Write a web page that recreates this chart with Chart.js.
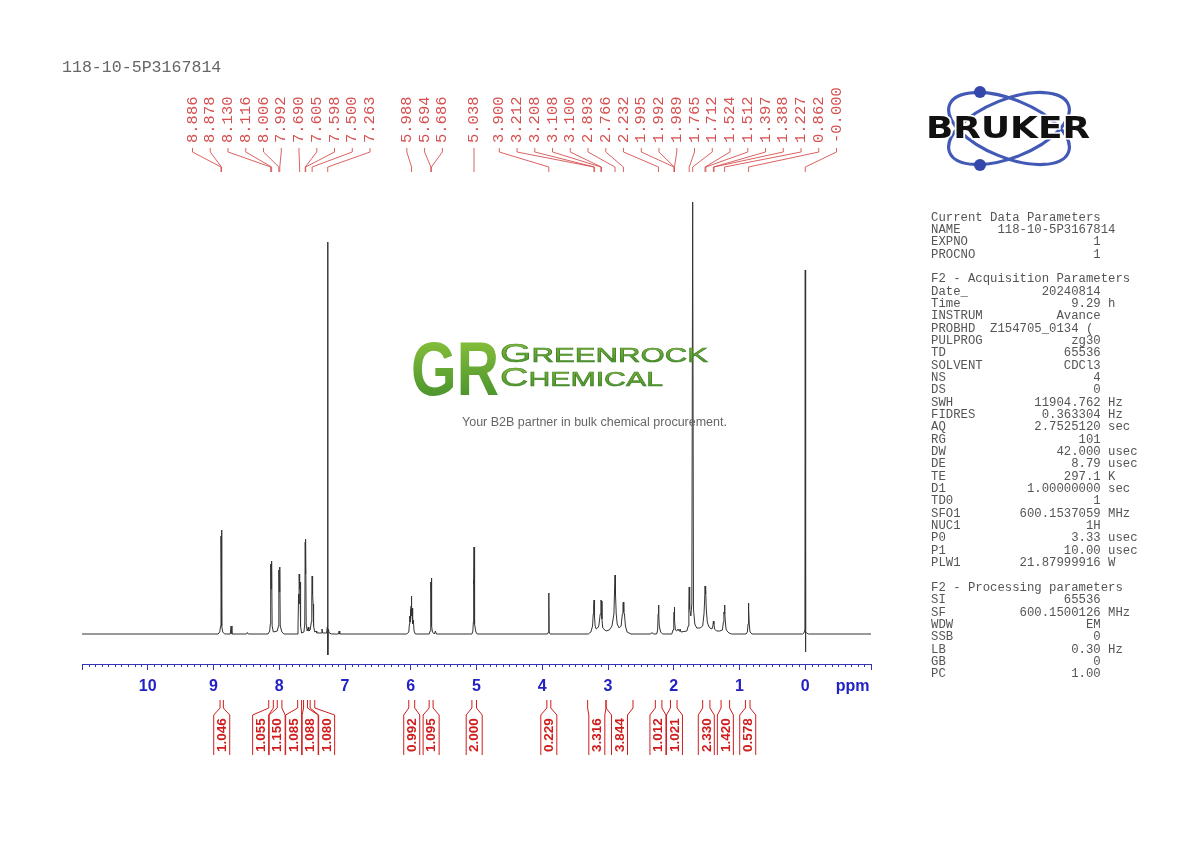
<!DOCTYPE html>
<html>
<head>
<meta charset="utf-8">
<title>118-10-5P3167814</title>
<script src="https://cdn.jsdelivr.net/npm/chart.js@4.4.1/dist/chart.umd.min.js"></script>
<style>
    html, body { margin: 0; padding: 0; background: #fff; }
    #wrap { position: relative; width: 1190px; height: 842px; overflow: hidden; }
    #spec, #overlay { position: absolute; left: 0; top: 0; }
    .mono { font-family: "Liberation Mono", "DejaVu Sans Mono", monospace; white-space: pre; margin: 0; }
    #title { position: absolute; left: 62px; top: 59px; font-size: 16.6px; line-height: 18px; color: #666; }
    #params { position: absolute; left: 931px; top: 211.5px; font-size: 12.3px; line-height: 12.35px; color: #555; }
</style>
</head>
<body>
<div id="wrap">
    <canvas id="spec" width="1190" height="842"></canvas>
    <div id="title" class="mono">118-10-5P3167814</div>
    <pre id="params" class="mono"></pre>
    <svg id="overlay" width="1190" height="842" xmlns="http://www.w3.org/2000/svg">
        <defs>
            <linearGradient id="grg" x1="0" y1="0" x2="0" y2="1">
                <stop offset="0" stop-color="#93c83e"/>
                <stop offset="1" stop-color="#3d8a2a"/>
            </linearGradient>
        </defs>
        <!-- Bruker logo -->
        <ellipse cx="1009" cy="128.5" rx="64" ry="29" transform="rotate(22 1009 128.5)" fill="none" stroke="#4259b5" stroke-width="3.2"/>
        <ellipse cx="1009" cy="128.5" rx="64" ry="29" transform="rotate(-22 1009 128.5)" fill="none" stroke="#4259b5" stroke-width="3.2"/>
        <circle cx="980" cy="92" r="6" fill="#3447ad"/>
        <circle cx="980" cy="165" r="6" fill="#3447ad"/>
        <text x="926" y="138" font-family="DejaVu Sans" font-weight="bold" font-size="30" textLength="164" lengthAdjust="spacingAndGlyphs" fill="#111" stroke="#fff" stroke-width="3" paint-order="stroke">BRUKER</text>
        <!-- watermark -->
        <text x="411" y="395" font-family="Liberation Sans" font-weight="bold" font-size="76" textLength="88" lengthAdjust="spacingAndGlyphs" fill="url(#grg)">GR</text>
        <text x="500" y="362" font-family="Liberation Sans" font-size="20" textLength="208" lengthAdjust="spacingAndGlyphs" fill="url(#grg)" stroke="#3f7f25" stroke-width="0.6"><tspan font-size="26">G</tspan>REENROCK</text>
        <text x="500" y="386" font-family="Liberation Sans" font-size="20" textLength="163" lengthAdjust="spacingAndGlyphs" fill="url(#grg)" stroke="#3f7f25" stroke-width="0.6"><tspan font-size="26">C</tspan>HEMICAL</text>
        <text x="594.5" y="425.5" text-anchor="middle" font-family="Liberation Sans" font-size="12.5" fill="#666">Your B2B partner in bulk chemical procurement.</text>
    </svg>
</div>
<script>
// --- 1. Data ---
const ppmMin = -1;
const ppmMax = 11;

// peak picking labels (ppm)
const peakLabels = ['8.886', '8.878', '8.130', '8.116', '8.006', '7.992', '7.690', '7.605', '7.598', '7.500', '7.263',
    '5.988', '5.694', '5.686', '5.038',
    '3.900', '3.212', '3.208', '3.108', '3.100', '2.893', '2.766', '2.232', '1.995', '1.992', '1.989',
    '1.765', '1.712', '1.524', '1.512', '1.397', '1.388', '1.227', '0.862', '-0.000'];

// integrals: value and region (ppm)
const integralValues = ['1.046', '1.055', '1.150', '1.085', '1.088', '1.080', '0.992', '1.095', '2.000',
    '0.229', '3.316', '3.844', '1.012', '1.021', '2.330', '1.420', '0.578'];
const integralFrom = [8.90, 8.16, 8.03, 7.72, 7.63, 7.53, 6.03, 5.72, 5.07, 3.93, 3.31, 3.03, 2.28, 2.05, 1.56, 1.28, 0.91];
const integralTo = [8.85, 8.09, 7.96, 7.66, 7.57, 7.46, 5.94, 5.66, 5.00, 3.87, 3.03, 2.62, 2.18, 1.95, 1.45, 1.15, 0.84];

// spectrum trace [ppm, intensity], high ppm first
const spectrum = [
    [11.0, 0],
    [8.93, 0], [8.905, 2], [8.892, 8], [8.886, 98], [8.882, 70], [8.878, 104], [8.872, 8], [8.86, 2], [8.83, 0],
    [8.745, 0], [8.733, 8], [8.72, 0],
    [8.50, 0], [8.485, 1.5], [8.47, 0],
    [8.17, 0], [8.145, 3], [8.136, 10], [8.130, 70], [8.123, 45], [8.116, 73], [8.108, 8], [8.09, 2],
    [8.03, 3], [8.012, 8], [8.006, 64], [7.999, 42], [7.992, 67], [7.985, 8], [7.96, 2], [7.93, 0],
    [7.73, 0], [7.715, 6], [7.706, 40], [7.700, 30], [7.697, 60], [7.690, 45], [7.684, 52], [7.676, 8], [7.66, 1],
    [7.625, 2], [7.612, 10], [7.605, 92], [7.601, 60], [7.598, 95], [7.590, 10], [7.575, 3],
    [7.565, 3], [7.558, 7], [7.550, 3],
    [7.530, 4], [7.512, 12], [7.505, 37], [7.500, 58], [7.493, 40], [7.485, 30], [7.478, 8], [7.46, 2],
    [7.44, 3], [7.43, 1], [7.36, 1], [7.35, 5], [7.34, 1],
    [7.28, 1], [7.268, 7], [7.263, 392], [7.260, -21], [7.255, 5], [7.24, 1], [7.20, 0],
    [7.10, 0], [7.09, 3], [7.08, 0],
    [6.06, 0], [6.03, 2], [6.020, 10], [6.015, 18], [6.010, 12], [6.005, 25], [6.000, 15], [5.995, 28], [5.991, 20],
    [5.988, 38], [5.984, 18], [5.980, 26], [5.976, 14], [5.972, 25], [5.966, 10], [5.960, 14], [5.950, 3], [5.93, 0],
    [5.72, 0], [5.705, 3], [5.698, 10], [5.694, 52], [5.690, 40], [5.686, 56], [5.680, 8], [5.67, 2], [5.64, 0], [5.625, 3], [5.61, 0],
    [5.07, 0], [5.055, 3], [5.048, 12], [5.045, 54], [5.041, 50], [5.038, 87], [5.034, 55], [5.030, 50], [5.024, 10], [5.01, 2], [4.99, 0],
    [3.92, 0], [3.905, 2], [3.900, 41], [3.895, 2], [3.88, 0],
    [3.30, 0], [3.26, 2], [3.235, 8], [3.225, 20], [3.218, 27], [3.212, 34], [3.208, 32], [3.202, 17], [3.195, 8], [3.18, 5],
    [3.16, 6], [3.14, 8], [3.118, 20], [3.108, 34], [3.100, 33], [3.092, 15], [3.08, 6], [3.03, 3], [2.98, 4], [2.94, 8],
    [2.91, 20], [2.900, 44], [2.893, 59], [2.886, 40], [2.875, 20], [2.86, 10], [2.83, 6], [2.80, 8], [2.782, 20], [2.772, 30],
    [2.766, 32], [2.760, 22], [2.750, 20], [2.735, 8], [2.71, 2], [2.65, 0],
    [2.35, 0], [2.33, 1.5], [2.31, 0],
    [2.26, 0], [2.245, 4], [2.238, 20], [2.232, 29], [2.226, 22], [2.220, 8], [2.20, 2], [2.17, 0],
    [2.03, 0], [2.01, 4], [2.000, 15], [1.995, 22], [1.992, 27], [1.989, 25], [1.984, 14], [1.975, 4], [1.955, 3], [1.935, 5],
    [1.92, 3], [1.905, 5], [1.89, 2],
    [1.80, 3], [1.78, 8], [1.770, 30], [1.765, 47], [1.758, 25], [1.74, 18], [1.725, 30], [1.712, 432], [1.700, 25], [1.68, 10],
    [1.65, 6], [1.60, 6],
    [1.56, 8], [1.540, 20], [1.530, 34], [1.524, 48], [1.518, 40], [1.512, 45], [1.505, 25], [1.49, 12], [1.47, 8], [1.45, 6],
    [1.42, 5], [1.405, 8], [1.397, 13], [1.392, 10], [1.388, 12], [1.38, 5], [1.35, 3], [1.30, 3],
    [1.26, 4], [1.245, 12], [1.237, 22], [1.232, 20], [1.227, 29], [1.222, 22], [1.215, 12], [1.205, 5], [1.19, 3], [1.16, 1], [1.12, 0],
    [0.90, 0], [0.88, 2], [0.870, 10], [0.866, 25], [0.862, 31], [0.857, 25], [0.852, 10], [0.84, 2], [0.81, 0],
    [0.04, 0], [0.02, 1], [0.005, 4], [0.000, 364], [-0.003, -18], [-0.008, 2], [-0.02, 1], [-0.05, 0],
    [-1.0, 0]
];

// acquisition / processing parameters panel
const params = [
    ['Current Data Parameters'],
    ['NAME     118-10-5P3167814'],
    ['EXPNO', '1'],
    ['PROCNO', '1'],
    [''],
    ['F2 - Acquisition Parameters'],
    ['Date_', '20240814'],
    ['Time', '9.29', 'h'],
    ['INSTRUM', 'Avance'],
    ['PROBHD  Z154705_0134 ('],
    ['PULPROG', 'zg30'],
    ['TD', '65536'],
    ['SOLVENT', 'CDCl3'],
    ['NS', '4'],
    ['DS', '0'],
    ['SWH', '11904.762', 'Hz'],
    ['FIDRES', '0.363304', 'Hz'],
    ['AQ', '2.7525120', 'sec'],
    ['RG', '101'],
    ['DW', '42.000', 'usec'],
    ['DE', '8.79', 'usec'],
    ['TE', '297.1', 'K'],
    ['D1', '1.00000000', 'sec'],
    ['TD0', '1'],
    ['SFO1', '600.1537059', 'MHz'],
    ['NUC1', '1H'],
    ['P0', '3.33', 'usec'],
    ['P1', '10.00', 'usec'],
    ['PLW1', '21.87999916', 'W'],
    [''],
    ['F2 - Processing parameters'],
    ['SI', '65536'],
    ['SF', '600.1500126', 'MHz'],
    ['WDW', 'EM'],
    ['SSB', '0'],
    ['LB', '0.30', 'Hz'],
    ['GB', '0'],
    ['PC', '1.00']
];

// --- 2. Styles ---
const axisBlue = '#3434b4';
const labelBlue = '#2222c4';
const peakRed = '#d65050';
const intRed = '#d01c1c';
const traceColor = '#333333';

document.getElementById('params').textContent = params.map(r => {
    if (r.length === 1) return r[0];
    return r[0].padEnd(23 - r[1].length) + r[1] + (r[2] ? ' ' + r[2] : '');
}).join('\n');

// spread label positions so that neighbours keep at least `gap` px apart
function spread(xs, gap) {
    let groups = xs.map(x => ({ sum: x, n: 1 }));
    let merged = true;
    while (merged) {
        merged = false;
        for (let i = 0; i < groups.length - 1; i++) {
            const a = groups[i], b = groups[i + 1];
            const aEnd = a.sum / a.n + (a.n - 1) * gap / 2;
            const bStart = b.sum / b.n - (b.n - 1) * gap / 2;
            if (bStart - aEnd < gap) {
                groups.splice(i, 2, { sum: a.sum + b.sum, n: a.n + b.n });
                merged = true;
                break;
            }
        }
    }
    const out = [];
    groups.forEach(g => {
        const start = g.sum / g.n - (g.n - 1) * gap / 2;
        for (let k = 0; k < g.n; k++) out.push(start + k * gap);
    });
    return out;
}

// --- 3. Annotation plugin: minor ticks, ppm, peak labels, integrals ---
const nmrAnnotations = {
    id: 'nmrAnnotations',
    afterDraw(chart) {
        const ctx = chart.ctx;
        const xs = chart.scales.x;
        const area = chart.chartArea;

        ctx.save();
        // minor ticks every 0.1 ppm
        ctx.strokeStyle = axisBlue;
        ctx.lineWidth = 1;
        ctx.beginPath();
        for (let i = ppmMin * 10; i <= ppmMax * 10; i++) {
            if (i % 10 === 0) continue;
            const px = Math.round(xs.getPixelForValue(i / 10)) + 0.5;
            ctx.moveTo(px, area.bottom);
            ctx.lineTo(px, area.bottom + 3);
        }
        ctx.stroke();

        // unit label
        ctx.fillStyle = labelBlue;
        ctx.font = 'bold 16px "Liberation Sans", Arial, sans-serif';
        ctx.textAlign = 'center';
        ctx.textBaseline = 'middle';
        ctx.fillText('ppm', xs.getPixelForValue(-0.72), area.bottom + 23);

        // peak labels
        const peakX = peakLabels.map(s => xs.getPixelForValue(parseFloat(s)));
        const peakLX = spread(peakX, 17.75);
        ctx.strokeStyle = peakRed;
        ctx.fillStyle = peakRed;
        ctx.lineWidth = 0.9;
        ctx.font = '15.5px "Liberation Mono", "DejaVu Sans Mono", monospace';
        peakX.forEach((px, i) => {
            const lx = peakLX[i];
            ctx.beginPath();
            ctx.moveTo(lx, area.top - 52);
            ctx.lineTo(lx, area.top - 48);
            ctx.lineTo(px, area.top - 33);
            ctx.lineTo(px, area.top - 28);
            ctx.stroke();
            ctx.save();
            ctx.translate(lx, area.top - 57);
            ctx.rotate(-Math.PI / 2);
            ctx.textAlign = 'left';
            ctx.textBaseline = 'middle';
            ctx.fillText(peakLabels[i], 0, 0);
            ctx.restore();
        });

        // integrals
        const x1 = integralFrom.map(v => xs.getPixelForValue(v));
        const x2 = integralTo.map(v => xs.getPixelForValue(v));
        const mids = x1.map((a, i) => (a + x2[i]) / 2);
        const intLX = spread(mids, 16.5);
        const half = 8;
        ctx.strokeStyle = intRed;
        ctx.fillStyle = intRed;
        ctx.lineWidth = 1;
        ctx.font = 'bold 13.5px "Liberation Sans", Arial, sans-serif';
        x1.forEach((a, i) => {
            const b = x2[i];
            const c = intLX[i];
            ctx.beginPath();
            ctx.moveTo(a, area.bottom + 36);
            ctx.lineTo(a, area.bottom + 44);
            ctx.lineTo(c - half, area.bottom + 51);
            ctx.lineTo(c - half, area.bottom + 91);
            ctx.moveTo(b, area.bottom + 36);
            ctx.lineTo(b, area.bottom + 44);
            ctx.lineTo(c + half, area.bottom + 51);
            ctx.lineTo(c + half, area.bottom + 91);
            ctx.stroke();
            ctx.save();
            ctx.translate(c + 0.5, area.bottom + 88);
            ctx.rotate(-Math.PI / 2);
            ctx.textAlign = 'left';
            ctx.textBaseline = 'middle';
            ctx.fillText(integralValues[i], 0, 0);
            ctx.restore();
        });
        ctx.restore();
    }
};

// --- 4. Chart ---
const ctx = document.getElementById('spec').getContext('2d');
new Chart(ctx, {
    type: 'line',
    data: {
        datasets: [{
            data: spectrum.map(p => ({ x: p[0], y: p[1] })),
            borderColor: traceColor,
            borderWidth: 1,
            borderJoinStyle: 'bevel',
            pointRadius: 0,
            tension: 0,
            fill: false
        }]
    },
    options: {
        responsive: false,
        animation: false,
        layout: { padding: { left: 82, right: 319, top: 200, bottom: 138 } },
        plugins: { legend: { display: false }, tooltip: { enabled: false } },
        scales: {
            x: {
                type: 'linear',
                reverse: true,
                min: ppmMin,
                max: ppmMax,
                afterFit: s => { s.height = 40; },
                border: { color: axisBlue, width: 1 },
                grid: { drawOnChartArea: false, drawTicks: true, tickLength: 6, color: axisBlue },
                ticks: {
                    stepSize: 1,
                    autoSkip: false,
                    maxRotation: 0,
                    padding: 7,
                    color: labelBlue,
                    font: { family: '"Liberation Sans", Arial, sans-serif', size: 16, weight: 'bold' },
                    callback: v => (v >= 0 && v <= 10 ? String(v) : '')
                }
            },
            y: { display: false, min: -30, max: 434 }
        }
    },
    plugins: [nmrAnnotations]
});
</script>
</body>
</html>
